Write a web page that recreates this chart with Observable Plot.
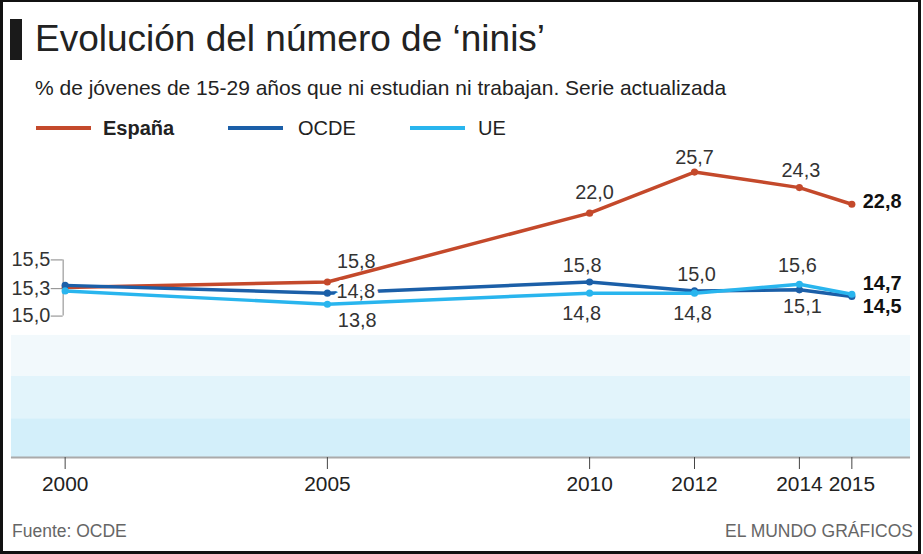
<!DOCTYPE html>
<html><head><meta charset="utf-8">
<script src="https://cdn.jsdelivr.net/npm/d3@7"></script>
<script src="https://cdn.jsdelivr.net/npm/@observablehq/plot@0.6"></script>
<style>
body{margin:0;background:#fff;font-family:"Liberation Sans",Arial,Helvetica,sans-serif;}
#frame{position:relative;width:921px;height:554px;box-sizing:border-box;border:3px solid #111;border-top-width:2px;overflow:hidden;background:#fff}
.abs{position:absolute;white-space:nowrap;line-height:1.15}
#bar{left:7px;top:17px;width:12px;height:41px;background:#1a1a1a}
#title{left:32px;top:16px;font-size:37px;color:#222}
#subtitle{left:32px;top:74px;font-size:21px;color:#222}
.lg-line{position:absolute;height:4px;width:55px}
.lg-text{font-size:20px;color:#222}
#chart{position:absolute;left:-3px;top:138px}
.foot{font-size:17.5px;color:#666;top:519px}
</style></head>
<body>
<div id="frame">
  <div id="bar" class="abs"></div>
  <div id="title" class="abs">Evolución del número de ‘ninis’</div>
  <div id="subtitle" class="abs">% de jóvenes de 15-29 años que ni estudian ni trabajan. Serie actualizada</div>
  <div id="legend"></div>
  <div id="chart"></div>
  <div class="abs foot" style="left:9px">Fuente: OCDE</div>
  <div class="abs foot" style="right:5px">EL MUNDO GRÁFICOS</div>
</div>
<script>
// ---- data ----
const years = [2000, 2005, 2010, 2012, 2014, 2015];
const espana = [15.3, 15.8, 22.0, 25.7, 24.3, 22.8];
const ocde   = [15.5, 14.8, 15.8, 15.0, 15.1, 14.5];
const ue     = [15.0, 13.8, 14.8, 14.8, 15.6, 14.7];
const seriesNames = ["España", "OCDE", "UE"];

// ---- styling / layout ----
const seriesValues = [espana, ocde, ue];
const colors = ["#c4492b", "#1b5fa8", "#29b5ee"];
const bandBreaks = [0, 3.5, 7.3, 11];
const bandColors = ["#d3effa", "#e2f4fb", "#f2f9fc"];
const labelDx = [[-15, 29, 5, 0, 1.5, 11], [-15, 28.5, -7.5, 2, 3, 11], [-15, 30, -8, -2, -2, 11]];
const labelDy = [[1, -21, -21, -15, -17, -3], [-25.6, -1.3, -17, -16, 17, 10], [25.3, 16, 21, 21, -19, -11]];
const xDomain = [1998.976, 2016.119];

const fmt = v => d3.format(".1f")(v).replace(".", ",");

// legend
const legend = document.getElementById("legend");
const lgPos = [[36, 103, true], [228, 298, false], [410, 478, false]];
seriesNames.forEach((s, i) => {
  const ln = document.createElement("div");
  ln.className = "lg-line";
  ln.style.left = (lgPos[i][0] - 3) + "px";
  ln.style.top = "124px";
  ln.style.background = colors[i];
  legend.appendChild(ln);
  const tx = document.createElement("div");
  tx.className = "abs lg-text";
  tx.style.left = (lgPos[i][1] - 3) + "px";
  tx.style.top = "115px";
  tx.style.fontWeight = lgPos[i][2] ? "bold" : "normal";
  tx.textContent = s;
  legend.appendChild(tx);
});

const rows = [];
seriesNames.forEach((s, si) => years.forEach((yr, i) => rows.push({serie: s, si, i, year: yr, value: seriesValues[si][i]})));

const bands = bandColors.map((c, i) => ({lo: bandBreaks[i], hi: bandBreaks[i + 1], c}));

const marks = [
  Plot.rect(bands, {x1: () => xDomain[0], x2: () => xDomain[1], y1: "lo", y2: "hi", fill: "c"}),
  Plot.ruleY([0], {stroke: "#aaa", strokeWidth: 2}),
  Plot.axisX({ticks: years, tickFormat: d => String(d), tickSize: 12, tickPadding: 7, fontSize: 21, stroke: "#444", fill: "#222", label: null}),
  // bracket for the 2000 labels
  Plot.ruleX([0], {x: () => years[0], y1: () => ocde[0], y2: () => ue[0], insetTop: -25.6, insetBottom: -25.3, dx: -2, stroke: "#999", strokeWidth: 1.2})
];
seriesNames.forEach((s, si) => {
  marks.push(Plot.ruleY([0], {x1: () => years[0], x2: () => years[0], y: () => seriesValues[si][0], insetLeft: -12, dx: -2, dy: labelDy[si][0], stroke: "#999", strokeWidth: 1.2}));
});

const drawSeries = si => {
  const d = rows.filter(r => r.si === si);
  marks.push(Plot.line(d, {x: "year", y: "value", stroke: colors[si], strokeWidth: 3.5, strokeLinejoin: "round"}));
  marks.push(Plot.dot(d, {x: "year", y: "value", r: 3.6, fill: colors[si], stroke: "none"}));
};
const labelMark = (r, halo) => {
  const last = r.i === years.length - 1;
  const first = r.i === 0;
  const opts = {
    x: "year", y: "value", text: d => fmt(d.value),
    dx: labelDx[r.si][r.i], dy: labelDy[r.si][r.i],
    textAnchor: first ? "end" : last ? "start" : "middle",
    fontSize: 20, fontWeight: last ? "bold" : "normal",
    fill: last ? "#111" : "#333"
  };
  if (halo) Object.assign(opts, {stroke: "white", strokeWidth: 8, strokeLinejoin: "round", paintOrder: "stroke"});
  return Plot.text([r], opts);
};

drawSeries(0);
drawSeries(1);
const haloRow = rows.find(r => r.si === 1 && r.i === 1);
marks.push(labelMark(haloRow, true));
drawSeries(2);
rows.filter(r => r !== haloRow).forEach(r => marks.push(labelMark(r, false)));

const plot = Plot.plot({
  width: 923,
  height: 380,
  marginLeft: 11,
  marginRight: 8,
  marginTop: 17.2,
  marginBottom: 61.2,
  x: {type: "linear", domain: xDomain, label: null},
  y: {domain: [0, 27], axis: null},
  style: {background: "transparent", fontFamily: "Liberation Sans, Arial, sans-serif", fontSize: "20px", color: "#222", overflow: "visible"},
  marks
});
document.getElementById("chart").appendChild(plot);
</script>
</body></html>
